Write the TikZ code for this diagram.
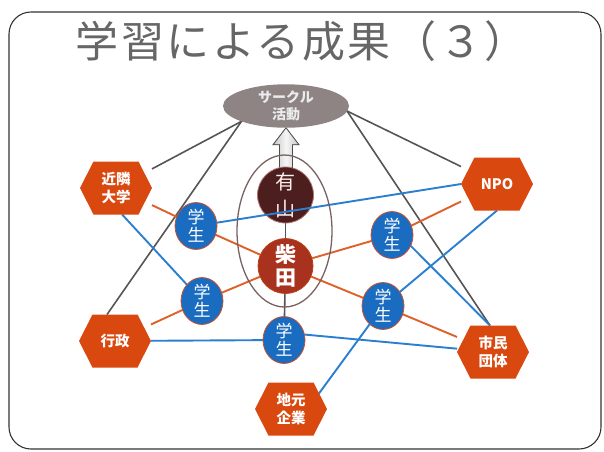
\documentclass[tikz,border=0pt]{standalone}
\usepackage{fontspec}
\setmainfont{Noto Sans CJK JP}
\usetikzlibrary{shapes.geometric}
\pgfdeclarelayer{back}
\pgfdeclarelayer{bg}
\pgfdeclarelayer{mid}
\pgfdeclarelayer{top}
\pgfsetlayers{back,bg,mid,top,main}
\definecolor{hexc}{HTML}{D9480F}
\definecolor{stud}{HTML}{1A6CC0}
\definecolor{studb}{HTML}{C8502E}
\definecolor{lorange}{HTML}{E0602A}
\definecolor{lblue}{HTML}{2A7FD0}
\definecolor{lgray}{HTML}{555555}
\definecolor{circg}{HTML}{8E8484}
\definecolor{ariyama}{HTML}{4C1E1E}
\definecolor{shibata}{HTML}{A8321E}
\definecolor{ringc}{HTML}{7A6262}
\tikzset{
  hexbox/.style={rectangle, minimum width=72pt, minimum height=53pt, inner sep=0pt, outer sep=0pt,
    text=white, font=\fontsize{14.5pt}{18pt}\selectfont\bfseries, align=center},
  student/.style={ellipse, minimum width=42pt, minimum height=46pt, inner sep=0pt, outer sep=0pt,
    fill=stud, draw=studb, line width=0.8pt, text=white,
    font=\fontsize{17pt}{18pt}\selectfont, align=center},
  oline/.style={draw=lorange, line width=1.9pt},
  bline/.style={draw=lblue, line width=1.9pt},
  gline/.style={draw=lgray, line width=1.6pt},
}
\newcommand\hexdraw[1]{\fill[hexc] (#1.west) -- ([xshift=13.5pt]#1.north west) -- ([xshift=-13.5pt]#1.north east) -- (#1.east) -- ([xshift=-13.5pt]#1.south east) -- ([xshift=13.5pt]#1.south west) -- cycle;}
\begin{document}
\begin{tikzpicture}[x=1pt,y=-1pt]
\begin{pgfonlayer}{back}
\fill[white] (0,0) rectangle (604,451);
\draw[draw=black!80, line width=1.1pt, rounded corners=22pt] (9,12) rectangle (601,449);
\end{pgfonlayer}
\useasboundingbox (0,0) rectangle (604,451);
\node[anchor=base west, inner sep=0pt, text=black!60, font=\fontsize{43pt}{43pt}\selectfont\addfontfeatures{LetterSpace=6}] (title) at (75.5,57) {学習による成果（３）};

% main nodes
\node[ellipse, fill=circg, minimum width=126pt, minimum height=43pt, inner sep=0pt, outer sep=0pt,
  text=white!92!black, font=\fontsize{14pt}{17.5pt}\selectfont\bfseries, align=center] (circ) at (286,106) {サークル\\活動};
\node[ellipse, draw=ringc, line width=1.3pt, minimum width=95pt, minimum height=152pt, inner sep=0pt] (ring) at (284.5,231) {};
\begin{pgfonlayer}{mid}
\filldraw[left color=gray!45, right color=gray!45, middle color=gray!8, draw=gray!60!black, line width=0.8pt]
  (circ.south) -- ([xshift=13pt,yshift=-17pt]circ.south) -- ([xshift=6.5pt,yshift=-17pt]circ.south)
  -- ([xshift=6.5pt,yshift=-48pt]circ.south) -- ([xshift=-6.5pt,yshift=-48pt]circ.south)
  -- ([xshift=-6.5pt,yshift=-17pt]circ.south) -- ([xshift=-13pt,yshift=-17pt]circ.south) -- cycle;
\node[circle, fill=ariyama, draw=ariyama!70!red!60!white, line width=0.8pt, minimum size=56pt, inner sep=0pt,
  text=red!6!white, font=\fontsize{20pt}{27pt}\selectfont, align=center] (ari) at (285.5,195) {有\\山};
\end{pgfonlayer}
\node[circle, fill=shibata, draw=shibata!80!orange, line width=0.8pt, minimum size=55pt, inner sep=0pt,
  text=white, font=\fontsize{21pt}{23pt}\selectfont\bfseries, align=center] (shib) at (285.5,266) {柴\\田};

\node[student] (s1) at (196,226) {学\\生};
\node[student] (s2) at (202,301) {学\\生};
\node[student] (s3) at (392,235) {学\\生};
\node[student] (s4) at (383,306) {学\\生};
\node[student] (s5) at (284,340) {学\\生};

\node[hexbox] (kin) at (116,188) {近隣\\大学};
\node[hexbox] (gyo) at (115,341) {行政};
\node[hexbox] (npo) at (497,184) {NPO};
\node[hexbox] (shimin) at (493,352) {市民\\団体};
\node[hexbox] (chimoto) at (291,409) {地元\\企業};

\begin{pgfonlayer}{mid}
\hexdraw{kin}
\hexdraw{gyo}
\hexdraw{npo}
\hexdraw{shimin}
\hexdraw{chimoto}
\end{pgfonlayer}

\begin{pgfonlayer}{bg}
% gray
\draw[gline, shorten <=-5pt] (circ.south west) -- (kin);
\draw[gline, shorten <=-5pt] (circ.south west) -- ([xshift=-8pt]gyo.north);
\draw[gline, shorten <=-5pt] ([yshift=-6pt]circ.east) -- (npo);
\draw[gline, shorten <=-5pt] ([yshift=-8pt]circ.east) -- ([xshift=-3pt]shimin.north);
\draw[gline] (ari) -- (shib);
\draw[gline] (shib) -- (s5);
% orange
\draw[oline] (kin) -- (s1);
\draw[oline] (s1) -- (shib);
\draw[oline] (gyo) -- (s2);
\draw[oline] (s2) -- (shib);
\draw[oline] (shib) -- (s3);
\draw[oline] (s3) -- (npo);
\draw[oline] (shib) -- (s4);
\draw[oline] (s4) -- (shimin);
% blue
\draw[bline] (kin.-77) -- (s2);
\draw[bline] (gyo) -- (s5);
\draw[bline] (s5.15) -- (shimin);
\draw[bline] (npo.south) -- (s4);
\draw[bline] (s3.-30) -- ([xshift=-3pt]shimin.north);
\draw[bline, shorten <=-15pt] (chimoto.north east) -- (s4);
\end{pgfonlayer}
\begin{pgfonlayer}{top}
\draw[bline] (s1) -- (npo.west);
\end{pgfonlayer}
\end{tikzpicture}
\end{document}
